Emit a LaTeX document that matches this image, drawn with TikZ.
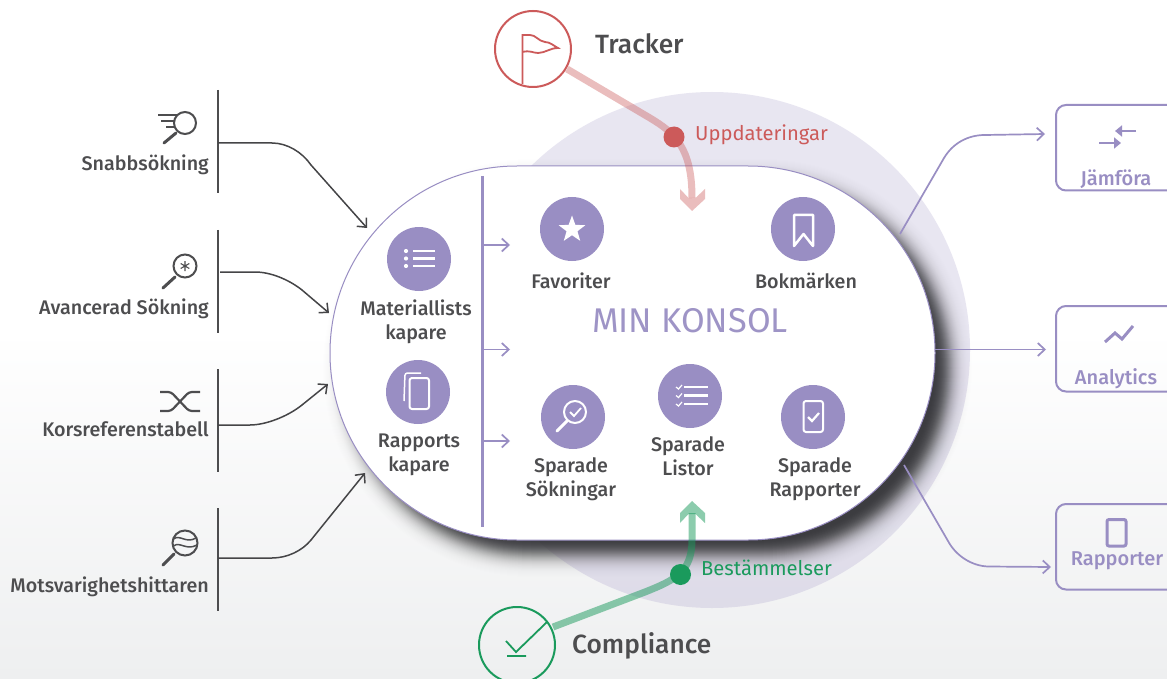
\documentclass[tikz,border=0pt]{standalone}
\usepackage{fontspec}
\setmainfont[UprightFont=* Medium]{Fira Sans}
\newfontfamily\plainface{Fira Sans}
\usetikzlibrary{arrows.meta,shapes.geometric}
\definecolor{vio}{HTML}{998EC3}
\definecolor{ink}{HTML}{4D4D4F}
\definecolor{redc}{HTML}{CC5A5A}
\definecolor{grn}{HTML}{1A9A5C}
\definecolor{shad}{HTML}{38383C}
\definecolor{bgend}{HTML}{EEEFF0}
\tikzset{
  x=1pt,y=-1pt,
  lbl/.style={text=ink,font=\fontsize{19.7}{24}\selectfont,inner sep=0pt,align=center},
  lblr/.style={lbl,anchor=east},
  iconcirc/.style={circle,fill=vio,minimum size=64pt,inner sep=0pt},
  wline/.style={draw=white,line width=2.5pt,fill=none},
  wthin/.style={draw=white,line width=2pt,fill=none,line join=round},
  dline/.style={draw=ink,line width=2pt,fill=none},
  dhandle/.style={draw=ink,line width=3pt,line cap=round},
  bar/.style={draw=ink,line width=2pt},
  conn/.style={draw=ink!90!black,line width=1.5pt,-{Straight Barb[length=7pt,width=13pt]}},
  pconn/.style={draw=vio,line width=1.7pt,-{Straight Barb[length=7pt,width=13pt]}},
  outbox/.style={draw=vio,line width=2pt,rounded corners=10pt,inner sep=0pt,outer sep=0pt,minimum width=140pt,minimum height=85.5pt,anchor=north west},
  outlbl/.style={text=vio,font=\fontsize{20}{24}\selectfont,inner sep=0pt},
}
\begin{document}
\begin{tikzpicture}
\useasboundingbox (0,0) rectangle (1167,679);
\clip (0,0) rectangle (1167,679);
% background
\fill[white] (0,0) rectangle (1167,330);
\shade[top color=white,bottom color=bgend] (0,330) rectangle (1167,679);
% big disc
\fill[vio,opacity=.22] (712,350) circle (258);
% shadow: layered so that the cumulated cover follows a soft sigmoid
\foreach \d in {26,25,...,-15}{
  \pgfmathsetmacro{\al}{1-(exp(\d/5)/(1+exp(\d/5)))/(exp((\d+1)/5)/(1+exp((\d+1)/5)))}
  \pgfmathsetmacro{\rr}{186.9+\d}
  \fill[shad,opacity=\al,rounded corners=\rr pt] (345-\d,181-\d) rectangle (950+\d,555+\d);
}
% console
\node[draw=vio,line width=1pt,fill=white,rounded corners=186.9pt,minimum width=605pt,minimum height=374pt,inner sep=0pt] (console) at (632.5,353) {};
\node[text=vio!95!white,font=\plainface\fontsize{34.3}{38}\selectfont,inner sep=0pt] (title) at (690,321) {MIN KONSOL};
% inner bar and arrows
\coordinate (vt) at (482,176); \coordinate (vb) at (482,527);
\draw[vio,line width=3pt] (vt) -- (vb);
\coordinate (va) at (482,245); \coordinate (vae) at (510,245);
\coordinate (vc) at (482,349.5); \coordinate (vce) at (510,349.5);
\coordinate (vd) at (482,441); \coordinate (vde) at (510,441);
\draw[pconn] (va) -- (vae);
\draw[pconn] (vc) -- (vce);
\draw[pconn] (vd) -- (vde);
% left bars
\coordinate (b1t) at (218,90);  \coordinate (b1b) at (218,193);
\coordinate (b2t) at (218,230); \coordinate (b2b) at (218,333);
\coordinate (b3t) at (218,369); \coordinate (b3b) at (218,472);
\coordinate (b4t) at (218,508); \coordinate (b4b) at (218,611);
\draw[bar] (b1t) -- (b1b);
\draw[bar] (b2t) -- (b2b);
\draw[bar] (b3t) -- (b3b);
\draw[bar] (b4t) -- (b4b);
\coordinate (s1) at (218,143); \coordinate (e1) at (367,228);
\coordinate (s2) at (220,272); \coordinate (e2) at (329,313);
\coordinate (s3) at (218,425); \coordinate (e3) at (328,384);
\coordinate (s4) at (218,558); \coordinate (e4) at (365,473);
\draw[conn] (s1) -- (272,143) .. controls (287,143) and (302,152) .. (311,165) -- (e1);
\draw[conn] (s2) -- (255,272) .. controls (270,272) and (288,279) .. (302,290) -- (e2);
\draw[conn] (s3) -- (250,425) .. controls (265,425) and (287,417) .. (302,405) -- (e3);
\draw[conn] (s4) -- (272,558) .. controls (287,558) and (302,551) .. (311,540) -- (e4);
% left labels
\node[lblr] (l1) at (209,164.5) {Snabbsökning};
\node[lblr] (l2) at (209,308.5) {Avancerad Sökning};
\node[lblr] (l3) at (209,429) {Korsreferenstabell};
\node[lblr] (l4) at (209,586.5) {Motsvarighetshittaren};
% left icons
\draw[dline] (185,123) circle (11);
\draw[dhandle] (176,133) -- (164,143);
\draw[ink,line width=1.8pt] (158,115) -- (177,115) (161,121) -- (175,121) (166,127) -- (175,127);
\draw[dline] (185,266) circle (11.5);
\draw[ink,line width=1.1pt] (185,261) -- (185,271) (180.7,263.5) -- (189.3,268.5) (180.7,268.5) -- (189.3,263.5);
\draw[dhandle] (175,277) -- (163,288);
\draw[ink,line width=2.2pt,rounded corners=3pt] (160,392) -- (171,392) -- (189,411) -- (200,411);
\draw[ink,line width=2.2pt,rounded corners=3pt] (160,411) -- (171,411) -- (189,392) -- (200,392);
\draw[dline] (185,543) circle (12.5);
\draw[ink,line width=1.5pt] (173.5,539) .. controls (180,534) and (186,544) .. (196,538);
\draw[ink,line width=1.5pt] (173.5,546) .. controls (180,541) and (186,551) .. (197,545);
\draw[dhandle] (174,554) -- (163,565);
% inner icons and labels
\node[iconcirc] (ml) at (419,259) {};
\fill[white] (406,251) circle (2.1) (406,258.5) circle (2.1) (406,266) circle (2.1);
\draw[wline] (413,251) -- (435,251) (413,258.5) -- (435,258.5) (413,266) -- (435,266);
\node[lbl] (mlt) at (416,321.5) {Materiallists\\kapare};
\node[iconcirc] (rk) at (418,392) {};
\draw[wthin,rounded corners=2.5pt] (409.5,378) rectangle (429,409);
\draw[white,line width=1.5pt,rounded corners=2.5pt] (421,373) -- (405,373) -- (404,401);
\node[lbl] (rkt) at (419,455) {Rapports\\kapare};
\node[iconcirc] (fav) at (572,229) {};
\node[star,star points=5,star point ratio=2.45,fill=white,minimum size=28pt,inner sep=0pt] (stern) at (572,229.5) {};
\node[lbl] (favt) at (571,281) {Favoriter};
\node[iconcirc] (bok) at (803,229) {};
\draw[wline,line join=round] (794,215) -- (813,215) -- (813,246) -- (803.5,234) -- (794,246) -- cycle;
\node[lbl] (bokt) at (806,281) {Bokmärken};
\node[iconcirc] (ss) at (573,417) {};
\draw[wthin] (575,412) circle (11);
\draw[white,line width=3pt,line cap=round] (567,421) -- (557,431);
\draw[white,line width=1.8pt] (570,412) -- (574,416) -- (581,408);
\node[lbl] (sst) at (571,479.5) {Sparade\\Sökningar};
\node[iconcirc] (sl) at (690,396) {};
\foreach \yy in {387,395.5,404}{
  \draw[white,line width=1.2pt] (676,\yy) -- (678.5,\yy+2) -- (682,\yy-2);
  \draw[wline] (684,\yy) -- (708,\yy);
}
\node[lbl] (slt) at (688,456.5) {Sparade\\Listor};
\node[iconcirc] (sr) at (813,417) {};
\draw[wthin,rounded corners=2.5pt] (803.5,401) rectangle (823,432);
\draw[white,line width=2.2pt] (808,417) -- (812,421) -- (819,413);
\node[lbl] (srt) at (815,479.5) {Sparade\\Rapporter};
% right boxes
\node[outbox] (bj) at (1056,105) {};
\node[outbox] (ba) at (1056,306) {};
\node[outbox] (br) at (1056,504) {};
\coordinate (oj) at (900,234); \coordinate (ej) at (1045,134);
\coordinate (oa) at (935,349.5); \coordinate (ea) at (1046,349.5);
\coordinate (or) at (904,465); \coordinate (er) at (1051,567);
\draw[pconn] (oj) -- (944,158) .. controls (953,143) and (968,135) .. (985,135) -- (ej);
\draw[pconn] (oa) -- (ea);
\draw[pconn] (or) -- (948,541) .. controls (956,556) and (972,566) .. (988,566.5) -- (er);
\node[outlbl] (tj) at (1116,179.5) {Jämföra};
\node[outlbl] (ta) at (1116,378.5) {Analytics};
\node[outlbl] (tr) at (1117,560.5) {Rapporter};
% right icons
\draw[vio,line width=2.2pt,-{Triangle[length=7pt,width=11pt]}] (1136,131) -- (1115,131);
\draw[vio,line width=2.2pt,-{Triangle[length=7pt,width=11pt]}] (1099,143) -- (1121,143);
\draw[vio,line width=3pt] (1105,342) -- (1115,333) -- (1122,339) -- (1133,326);
\draw[vio,line width=3pt,rounded corners=2pt] (1107,519.5) rectangle (1126,546);
% tracker
\node[circle,draw=redc,line width=2pt,minimum size=76pt,inner sep=0pt] (trk) at (533,49) {};
\node[text=ink,font=\fontsize{26.4}{30}\selectfont,inner sep=0pt,anchor=west] (trkt) at (595,44) {Tracker};
\draw[redc,line width=1.8pt] (522.5,84) -- (522.5,35) -- (530,35) .. controls (536,35) and (538,41) .. (545,42) .. controls (550,42) and (554,46) .. (558,48) .. controls (550,48) and (545,53) .. (538,53) .. controls (533,53) and (530,50) .. (522.5,52);
\coordinate (ta0) at (567,69); \coordinate (ta1) at (692,198);
\draw[redc,opacity=.4,line width=7pt] (ta0) -- (650,118) .. controls (675,133) and (692,148) .. (ta1);
\fill[redc,opacity=.4] (692,211) -- (705,199) -- (705,189) -- (695.5,198) -- (688.5,198) -- (680,189) -- (680,199) -- cycle;
\node[circle,fill=redc,minimum size=21pt,inner sep=0pt] (td) at (674,137) {};
\node[text=redc,font=\plainface\fontsize{20.2}{24}\selectfont,inner sep=0pt,anchor=west] (tdt) at (695,135) {Uppdateringar};
% compliance
\node[circle,draw=grn,line width=2pt,minimum size=76pt,inner sep=0pt] (cmp) at (517,645) {};
\node[text=ink,font=\fontsize{26.3}{30}\selectfont,inner sep=0pt,anchor=west] (cmpt) at (572,646) {Compliance};
\draw[grn,line width=1.8pt] (506,641) -- (516,652) -- (547,622) (507,656) -- (526,656);
\coordinate (ca0) at (553,627); \coordinate (ca1) at (692,513);
\draw[grn,opacity=.5,line width=7pt] (ca0) -- (645,592) .. controls (675,580) and (692,572) .. (692,540) -- (ca1);
\fill[grn,opacity=.5] (692,501) -- (705,513) -- (705,523) -- (695.5,514) -- (688.5,514) -- (680,523) -- (680,513) -- cycle;
\node[circle,fill=grn,minimum size=21pt,inner sep=0pt] (cd) at (680.5,574.5) {};
\node[text=grn,font=\plainface\fontsize{20.2}{24}\selectfont,inner sep=0pt,anchor=west] (cdt) at (701,568) {Bestämmelser};
\end{tikzpicture}
\end{document}
